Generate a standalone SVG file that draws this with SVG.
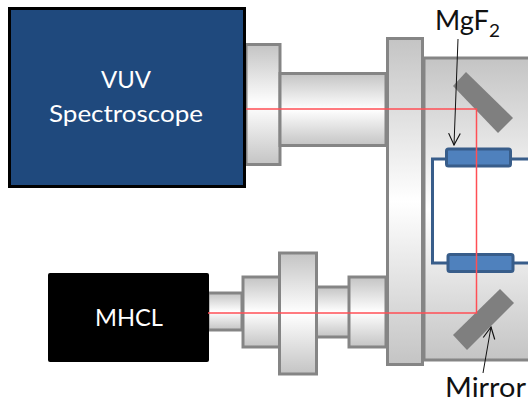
<svg xmlns="http://www.w3.org/2000/svg" width="528" height="403" viewBox="0 0 528 403">
<defs>
<linearGradient id="metal" x1="0" y1="0" x2="0" y2="1"><stop offset="0" stop-color="#c4c4c4"/><stop offset="0.5" stop-color="#ffffff"/><stop offset="1" stop-color="#c4c4c4"/></linearGradient>
<marker id="open" viewBox="0 0 12 12" refX="11" refY="6" markerWidth="14" markerHeight="14" markerUnits="userSpaceOnUse" orient="auto"><path d="M1 1 L11 6 L1 11" fill="none" stroke="#111" stroke-width="1"/></marker>
</defs>
<style>
.part{fill:url(#metal);stroke:#858585;stroke-width:3}
.mirror{fill:#7f7f7f}
.win{fill:#4f81bd;stroke:#385d8a;stroke-width:3}
.beam{fill:none;stroke:#ff4f55;stroke-width:1.5}
.lead{fill:none;stroke:#111;stroke-width:1;marker-end:url(#open)}
.t{font-family:Lato,"Open Sans",sans-serif}
.w{fill:#ffffff;font-size:24px}
.k{fill:#111111;font-size:26px}
</style>
<rect width="528" height="403" fill="#ffffff"/>
<g id="chamber">
<rect class="part" x="424" y="58" width="110" height="302"/>
<path d="M432.500 159H530V263H432.500Z" fill="#ffffff"/>
<path d="M530 159H432.500V263H530" fill="none" stroke="#385d8a" stroke-width="3"/>
</g>
<g id="spectroscope-flange"><rect class="part" x="246" y="44.500" width="34" height="120"/></g>
<g id="spectroscope-tube"><rect class="part" x="280" y="73.500" width="106" height="72"/></g>
<g id="plate"><rect class="part" x="387.500" y="38.500" width="35" height="326"/></g>
<g id="lamp-tube"><rect class="part" x="208" y="293" width="34" height="37"/></g>
<g id="lamp-flange"><rect class="part" x="243" y="277" width="37" height="70"/></g>
<g id="lamp-tube-2"><rect class="part" x="316" y="287" width="37" height="50"/></g>
<g id="lamp-flange-2"><rect class="part" x="349" y="277" width="37" height="70"/></g>
<g id="lamp-large-flange"><rect class="part" x="279.500" y="253" width="37" height="121"/></g>
<g id="mirror-top"><polygon class="mirror" points="466,72 513,118 498,133 453,86"/></g>
<g id="mirror-bottom"><polygon class="mirror" points="500,289 514,303 467,350 453,335"/></g>
<g id="window-top"><rect class="win" x="446.500" y="149" width="64" height="17" rx="2"/></g>
<g id="window-bottom"><rect class="win" x="448" y="254.500" width="65" height="17" rx="2"/></g>
<g id="spectroscope">
<rect x="9.500" y="8.500" width="235" height="178" fill="#1f497d" stroke="#000000" stroke-width="3"/>
<text class="t w" x="126" y="88" text-anchor="middle" textLength="50" lengthAdjust="spacingAndGlyphs">VUV</text>
<text class="t w" x="126" y="122" text-anchor="middle" textLength="154" lengthAdjust="spacingAndGlyphs">Spectroscope</text>
</g>
<g id="mhcl">
<rect x="48" y="273" width="161" height="89" rx="2" fill="#000000"/>
<text class="t w" x="129" y="326" text-anchor="middle" textLength="68" lengthAdjust="spacingAndGlyphs">MHCL</text>
</g>
<g id="connectors">
<path class="beam" d="M246 109H476.500V313H208"/>
<path class="lead" d="M458 39L454 145"/>
<path class="lead" d="M483 373L491 327"/>
</g>
<g id="labels">
<text class="t k" x="435" y="30" textLength="54" lengthAdjust="spacingAndGlyphs">MgF</text>
<text class="t k" x="489" y="37" style="font-size:17px" textLength="11" lengthAdjust="spacingAndGlyphs">2</text>
<text class="t k" x="445" y="397" textLength="81" lengthAdjust="spacingAndGlyphs">Mirror</text>
</g>
</svg>
